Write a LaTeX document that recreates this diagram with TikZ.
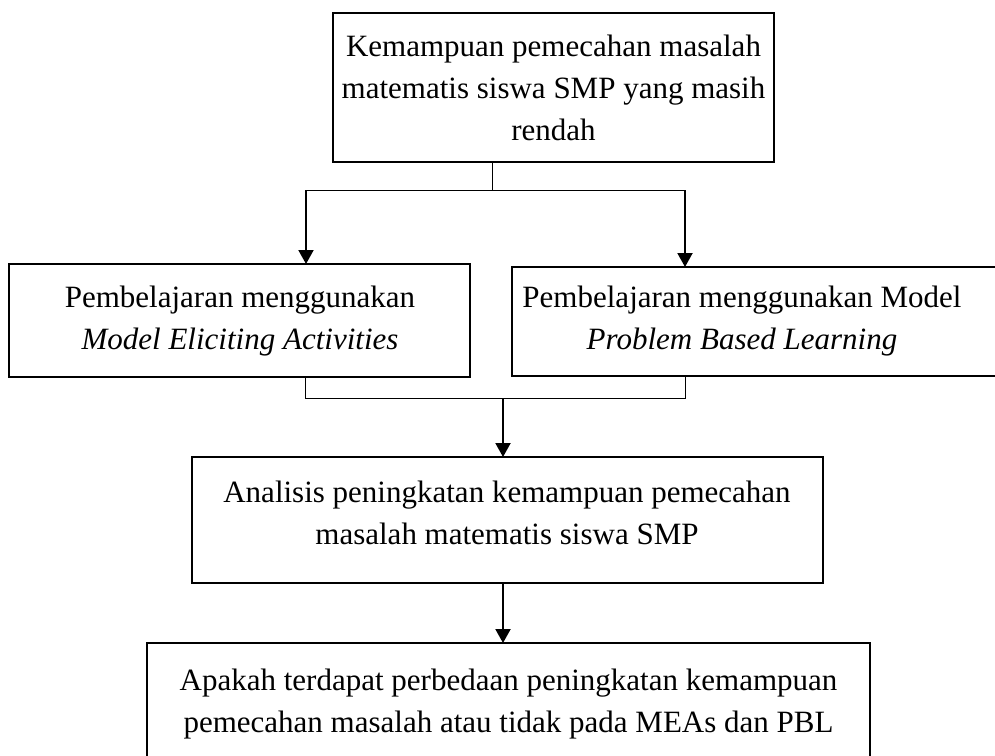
\documentclass[tikz,border=0pt]{standalone}
\usepackage{fontspec}
\setmainfont{Liberation Serif}
\usetikzlibrary{arrows.meta}
\begin{document}
\begin{tikzpicture}[x=1pt,y=-1pt,
  boxnode/.style={draw, line width=2pt, inner sep=0pt, outer sep=0pt},
  txt/.style={align=center, inner sep=0pt, font=\fontsize{31}{42}\selectfont},
  thinline/.style={line width=1pt},
  arr/.style={line width=2pt, -{Triangle[length=14pt,width=15pt]}}]
\useasboundingbox (0,0) rectangle (995,755);
% boxes
\node[boxnode, minimum width=441pt, minimum height=149pt] (top) at (553.5,87.5) {};
\node[txt] (toptxt) at (553.5,88) {Kemampuan pemecahan masalah\\matematis siswa SMP yang masih\\rendah};
\node[boxnode, minimum width=461pt, minimum height=113pt] (left) at (239.5,320.5) {};
\node[txt] (lefttxt) at (240,321) {Pembelajaran menggunakan\\\textit{Model Eliciting Activities}};
\node[boxnode, minimum width=498pt, minimum height=109pt] (right) at (761,321.5) {};
\node[txt] (righttxt) at (742,321) {Pembelajaran menggunakan Model\\\textit{Problem Based Learning}};
\node[boxnode, minimum width=631pt, minimum height=126pt] (ana) at (507.5,520) {};
\node[txt] (anatxt) at (507,513) {Analisis peningkatan kemampuan pemecahan\\masalah matematis siswa SMP};
\node[boxnode, minimum width=723pt, minimum height=127pt] (bot) at (508.5,706.5) {};
\node[txt] (bottxt) at (508.5,704) {Apakah terdapat perbedaan peningkatan kemampuan\\pemecahan masalah atau tidak pada MEAs dan PBL};
% top connector
\coordinate (j1) at (492,190);
\coordinate (jl) at (306,190);
\coordinate (jr) at (685,190);
\draw[thinline] (top.south -| j1) -- (j1);
\draw[thinline] (jl) -- (jr);
\draw[arr] (jl) -- (jl |- left.north);
\draw[arr] (jr) -- (jr |- right.north);
% middle connector
\coordinate (kl) at (305,398);
\coordinate (kr) at (685,398);
\coordinate (km) at (503,398);
\draw[thinline] (left.south -| kl) -- (kl) -- (kr) -- (right.south -| kr);
\draw[arr] (km) -- (km |- ana.north);
\draw[arr] (ana.south -| km) -- (km |- bot.north);
\end{tikzpicture}
\end{document}
